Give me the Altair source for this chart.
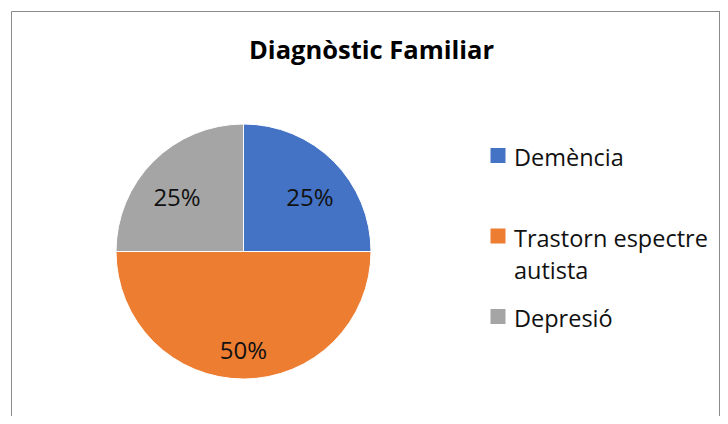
import altair as alt
import pandas as pd

title_text = "Diagnòstic Familiar"
categories = ["Demència", "Trastorn espectre autista", "Depresió"]
legend_text = ["Demència", "Trastorn espectre\nautista", "Depresió"]
values = [25, 50, 25]
colors = ["#4472C4", "#ED7D31", "#A5A5A5"]

df = pd.DataFrame({
    "cat": categories,
    "label": legend_text,
    "value": values,
    "idx": list(range(len(categories))),
})

FONT = "Open Sans"
CX, CY, R = 235.5, 243.5, 127.5

color = alt.Color("cat:N", scale=alt.Scale(domain=categories, range=colors), legend=None)

base = alt.Chart(df).transform_window(
    cum="sum(value)", sort=[alt.SortField("idx")], frame=[None, 0]
).transform_calculate(
    start="datum.cum - datum.value",
    mid="datum.cum - datum.value / 2",
    pct="format(datum.value, 'd') + '%'",
)

theta_scale = alt.Scale(domain=[0, 100], range=[0, 6.283185307179586])

arcs = base.mark_arc(radius=R, stroke="white", strokeWidth=1).encode(
    theta=alt.Theta("start:Q", scale=theta_scale, stack=None),
    theta2="cum:Q",
    color=color,
    x=alt.value(CX),
    y=alt.value(CY),
)

lab25 = base.transform_filter("datum.value == 25").mark_text(
    radius=94, dy=14, font=FONT, fontSize=24, color="#111111", baseline="middle", align="center"
).encode(
    theta=alt.Theta("mid:Q", scale=theta_scale, stack=None),
    text="pct:N",
    x=alt.value(CX),
    y=alt.value(CY),
)

lab50 = base.transform_filter("datum.value == 50").mark_text(
    radius=100, font=FONT, fontSize=24, color="#111111", baseline="middle", align="center"
).encode(
    theta=alt.Theta("mid:Q", scale=theta_scale, stack=None),
    text="pct:N",
    x=alt.value(CX),
    y=alt.value(CY),
)

yleg = alt.Y("cat:N", scale=alt.Scale(type="point", domain=categories, range=[147.5, 308.5], padding=0), axis=None)

leg_sq = alt.Chart(df).mark_point(shape="square", size=225, filled=True, opacity=1).encode(
    x=alt.value(490),
    y=yleg,
    color=color,
)

leg_txt = alt.Chart(df).mark_text(
    font=FONT, fontSize=23.5, color="#111111", align="left", baseline="alphabetic",
    dy=10.5, lineBreak="\n", lineHeight=32.5,
).encode(
    x=alt.value(506),
    y=yleg,
    text="label:N",
)

title = alt.Chart(pd.DataFrame({"t": [title_text]})).mark_text(
    font=FONT, fontSize=25.5, fontWeight="bold", color="#000000", align="center", baseline="alphabetic"
).encode(
    text="t:N",
    x=alt.value(363.5),
    y=alt.value(51),
)

border_top = alt.Chart(pd.DataFrame({"a": [0]})).mark_rule(color="#8a8a8a", strokeWidth=1).encode(
    x=alt.value(3.5), x2=alt.value(712), y=alt.value(3.5)
)
border_left = alt.Chart(pd.DataFrame({"a": [0]})).mark_rule(color="#8a8a8a", strokeWidth=1).encode(
    x=alt.value(3.5), y=alt.value(3.5), y2=alt.value(420)
)
border_right = alt.Chart(pd.DataFrame({"a": [0]})).mark_rule(color="#8a8a8a", strokeWidth=1).encode(
    x=alt.value(711.5), y=alt.value(3.5), y2=alt.value(420)
)

chart = alt.layer(
    border_top, border_left, border_right, arcs, lab25, lab50, leg_sq, leg_txt, title
).properties(
    width=712, height=408,
    autosize=alt.AutoSizeParams(type="none"),
    padding={"left": 0, "top": 0, "right": 0, "bottom": 0},
).configure_view(stroke=None)

chart.save("out.html", embed_options={"renderer": "svg", "actions": False})
